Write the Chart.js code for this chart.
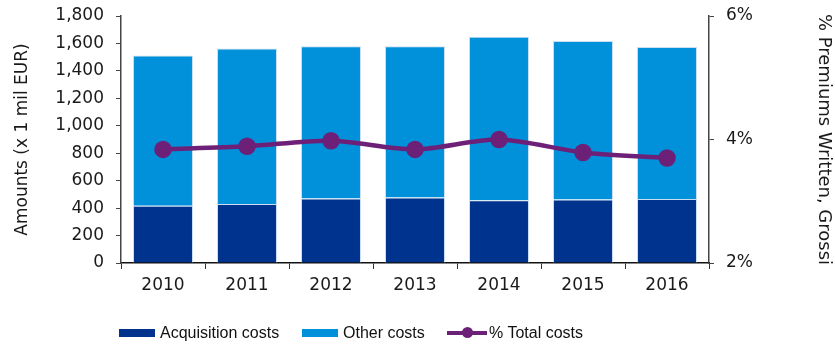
<!DOCTYPE html>
<html>
<head>
<meta charset="utf-8">
<script src="https://cdn.jsdelivr.net/npm/chart.js@4.4.1/dist/chart.umd.min.js"></script>
<style>
  body { margin: 0; background: #fff; font-family: "Liberation Sans", Arial, sans-serif; }
  #wrap { position: relative; width: 835px; height: 347px; }
  #legend { position: absolute; left: 0; top: 322px; width: 835px; height: 22px; font-size: 16px; color: #111; }
  .item { position: absolute; top: 0; display: flex; align-items: center; height: 22px; }
  .box { width: 36px; height: 8px; margin-right: 5px; }
  .linemark { position: relative; width: 40px; height: 4px; background: #6d2077; margin-right: 2px; }
  .linemark::after { content: ''; position: absolute; left: 15px; top: -4px; width: 11px; height: 11px; border-radius: 50%; background: #6d2077; }
</style>
</head>
<body>
<div id="wrap">
  <canvas id="chart" width="835" height="347"></canvas>
  <div id="legend">
    <div class="item" style="left:119px"><span class="box" style="background:#00338d"></span>Acquisition costs</div>
    <div class="item" style="left:302px"><span class="box" style="background:#0091da"></span>Other costs</div>
    <div class="item" style="left:447px"><span class="linemark"></span>% Total costs</div>
  </div>
</div>
<script>
const years = ['2010', '2011', '2012', '2013', '2014', '2015', '2016'];
const acquisitionCosts = [417, 430, 470, 477, 457, 462, 467];
const otherCosts = [1095, 1133, 1110, 1103, 1191, 1155, 1108];
const totalCostsPct = [3.84, 3.89, 3.98, 3.84, 4.0, 3.79, 3.70];

const ctx = document.getElementById('chart').getContext('2d');
const axisFont = '"DejaVu Sans", "Liberation Sans", sans-serif';
Chart.defaults.font.family = axisFont;
Chart.defaults.font.size = 17;
Chart.defaults.color = '#1a1a1a';

// fixed axis sizes so the plot area lands where it is in the original
function fitSide(width) {
    return (s) => {
        s.width = width;
        s.paddingTop = 0;
        s.paddingBottom = 0;
    };
}

new Chart(ctx, {
    type: 'bar',
    data: {
        labels: years,
        datasets: [
            {
                type: 'line',
                label: '% Total costs',
                data: totalCostsPct,
                yAxisID: 'y2',
                borderColor: '#6d2077',
                backgroundColor: '#6d2077',
                borderWidth: 4.5,
                pointRadius: 6.5,
                pointHoverRadius: 6.5,
                tension: 0.3,
                order: 0
            },
            {
                label: 'Acquisition costs',
                data: acquisitionCosts,
                backgroundColor: '#00338d',
                borderColor: '#c9dff1',
                borderWidth: 1,
                stack: 'costs',
                order: 1
            },
            {
                label: 'Other costs',
                data: otherCosts,
                backgroundColor: '#0091da',
                borderColor: '#c9dff1',
                borderWidth: 1,
                stack: 'costs',
                order: 1
            }
        ]
    },
    options: {
        responsive: false,
        animation: false,
        layout: { padding: { top: 16, left: 0, right: 0, bottom: 0 } },
        datasets: { bar: { categoryPercentage: 1, barPercentage: 0.714 } },
        plugins: { legend: { display: false }, tooltip: { enabled: false } },
        scales: {
            x: {
                stacked: true,
                afterFit: (s) => { s.height = 84; },
                border: { color: '#111', width: 1.5 },
                grid: { offset: true, drawOnChartArea: false, tickLength: 6, color: '#333' },
                ticks: { padding: 6, font: { size: 17 } }
            },
            y: {
                stacked: true,
                position: 'left',
                min: 0,
                max: 1800,
                afterFit: fitSide(121),
                border: { color: '#444', width: 1.5 },
                grid: { drawOnChartArea: false, tickLength: 5, color: '#444' },
                ticks: {
                    stepSize: 200,
                    padding: 12,
                    font: { size: 17 },
                    callback: (v) => v.toLocaleString('en-US')
                },
                title: { display: true, text: 'Amounts (x 1 mil EUR)', font: { size: 17 }, padding: { top: 12, bottom: 0 } }
            },
            y2: {
                position: 'right',
                min: 2,
                max: 6,
                afterFit: fitSide(126),
                border: { color: '#444', width: 1.5 },
                grid: { drawOnChartArea: false, tickLength: 5, color: '#444' },
                ticks: {
                    stepSize: 2,
                    padding: 12,
                    font: { size: 17 },
                    callback: (v) => v + '%'
                },
                title: { display: true, text: '% Premiums Written, Grossi', font: { size: 18 }, padding: { top: 1, bottom: 0 } }
            }
        }
    }
});
</script>
</body>
</html>
